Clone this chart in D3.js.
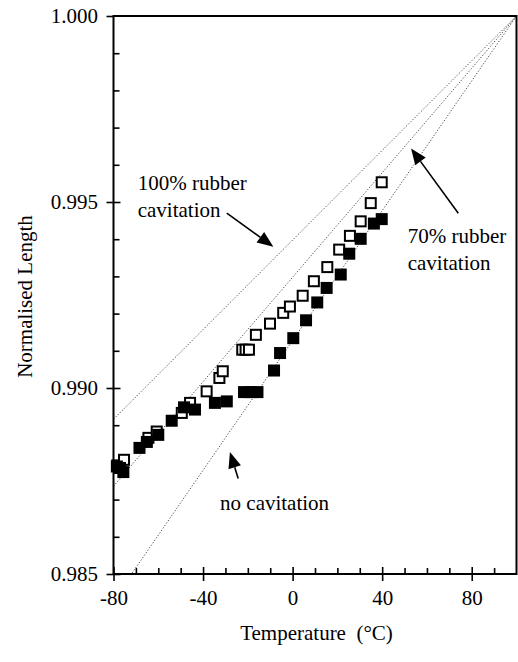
<!DOCTYPE html>
<html>
<head>
<meta charset="utf-8">
<script src="https://cdn.jsdelivr.net/npm/d3@7"></script>
<style>
  html, body { margin: 0; padding: 0; background: #fff; }
  svg { display: block; }
  text { font-family: "Liberation Serif", "Times New Roman", serif; fill: #000; }
</style>
</head>
<body>
<script>
// Thermal contraction data: temperature (°C) and normalised length
const openTemp = [-78.3, -75.3, -64.4, -60.7, -49.5, -45.8, -38.4, -32.7, -31.2, -22.5, -21.0, -19.5,
                  -16.4, -10.1, -4.2, -1.2, 4.5, 9.5, 15.5, 20.8, 25.6, 30.4, 34.9, 39.8];
const openLen  = [0.98792, 0.98807, 0.98866, 0.98883, 0.98933, 0.98960, 0.98991, 0.99027, 0.99045, 0.99103, 0.99103, 0.99103,
                  0.99143, 0.99173, 0.99202, 0.99219, 0.99248, 0.99287, 0.99325, 0.99372, 0.99409, 0.99448, 0.99497, 0.99553];

const filledTemp = [-78.5, -77.1, -75.6, -68.4, -65.1, -60.0, -54.0, -48.5, -43.6, -34.7, -29.4, -21.7, -18.7,
                    -15.7, -8.3, -5.6, 0.3, 6.0, 11.0, 15.2, 21.5, 25.3, 30.4, 36.3, 39.8];
const filledLen  = [0.98789, 0.98785, 0.98774, 0.98839, 0.98855, 0.98874, 0.98912, 0.98948, 0.98942, 0.98960, 0.98964, 0.98989, 0.98989,
                    0.98989, 0.99047, 0.99094, 0.99134, 0.99182, 0.99230, 0.99269, 0.99305, 0.99361, 0.99401, 0.99442, 0.99454];

// Model lines: all pass through (100 °C, 1.000); value at -80 °C
const modelNames = ["100% rubber cavitation", "70% rubber cavitation", "no cavitation"];
const modelStartLen = [0.98916, 0.98736, 0.98430];
const modelAnchor = [100, 1.000];

// Axis ticks
const xMajor = [-80, -40, 0, 40, 80];
const xMinor = d3.range(-70, 100, 10).filter(v => v % 40 !== 0);
const yMajor = [0.985, 0.990, 0.995, 1.000];
const yMinor = [0.986, 0.987, 0.988, 0.989, 0.991, 0.992, 0.993, 0.994, 0.996, 0.997, 0.998, 0.999];

// Annotations (data coordinates)
const labelLines = [
  { lines: ["100% rubber", "cavitation"], t: -69.2, l: 0.99532 },
  { lines: ["70% rubber", "cavitation"], t: 51.4, l: 0.99389 },
  { lines: ["no cavitation"], t: -32.4, l: 0.98671 }
];
const arrows = [
  { from: [-29.4, 0.99470], to: [-8.6, 0.99380] },
  { from: [74.0, 0.99470], to: [52.9, 0.99644] },
  { from: [-24.3, 0.98757], to: [-28.0, 0.98828] }
];

const W = 518, H = 662;
const plotL = 113.5, plotR = 516.5, plotT = 16, plotB = 574;
const FONT = 21;

const svg = d3.select("body").append("svg").attr("width", W).attr("height", H);
svg.append("rect").attr("width", W).attr("height", H).attr("fill", "#fff");

const x = d3.scaleLinear().domain([-80, 100]).range([plotL, plotR]);
const y = d3.scaleLinear().domain([0.985, 1.000]).range([plotB, plotT]);

svg.append("defs").append("clipPath").attr("id", "plot-clip")
  .append("rect").attr("x", plotL).attr("y", plotT).attr("width", plotR - plotL).attr("height", plotB - plotT);

// Dotted model lines
const lineGen = d3.line().x(d => x(d[0])).y(d => y(d[1]));
svg.append("g").attr("clip-path", "url(#plot-clip)")
  .selectAll("path").data(modelStartLen).join("path")
  .attr("d", d => lineGen([[-80, d], modelAnchor]))
  .attr("fill", "none").attr("stroke", "#333").attr("stroke-width", 0.9)
  .attr("stroke-dasharray", "1.2,1.8");

// Open squares, then filled squares
const openPts = openTemp.map((t, i) => [t, openLen[i]]);
const filledPts = filledTemp.map((t, i) => [t, filledLen[i]]);
const S = 12;
svg.append("g").selectAll("rect").data(openPts).join("rect")
  .attr("x", d => x(d[0]) - (S - 2) / 2).attr("y", d => y(d[1]) - (S - 2) / 2)
  .attr("width", S - 2).attr("height", S - 2)
  .attr("fill", "#fff").attr("stroke", "#000").attr("stroke-width", 2);
svg.append("g").selectAll("rect").data(filledPts).join("rect")
  .attr("x", d => x(d[0]) - S / 2).attr("y", d => y(d[1]) - S / 2)
  .attr("width", S).attr("height", S).attr("fill", "#000");

// Axes
function styleAxis(g) {
  g.attr("font-family", null).attr("font-size", null);
  g.selectAll(".tick line").attr("stroke", "#000").attr("stroke-width", 1.6);
  g.select(".domain").remove();
}
const xAxisG = svg.append("g").attr("transform", `translate(0,${plotB})`)
  .call(d3.axisBottom(x).tickValues(xMajor).tickSize(7).tickSizeOuter(0).tickFormat(d => String(d)))
  .call(styleAxis);
xAxisG.selectAll("text").attr("y", 31).attr("dy", 0).style("font-size", FONT + "px");
svg.append("g").attr("transform", `translate(0,${plotB})`)
  .call(d3.axisBottom(x).tickValues(xMajor).tickSize(-7).tickSizeOuter(0).tickFormat(""))
  .call(styleAxis);
svg.append("g").attr("transform", `translate(0,${plotB})`)
  .call(d3.axisBottom(x).tickValues(xMinor).tickSize(-6).tickSizeOuter(0).tickFormat(""))
  .call(styleAxis);

const yAxisG = svg.append("g").attr("transform", `translate(${plotL},0)`)
  .call(d3.axisLeft(y).tickValues(yMajor).tickSize(7).tickSizeOuter(0).tickFormat(d3.format(".3f")))
  .call(styleAxis);
yAxisG.selectAll("text").attr("x", -15.5).attr("dy", "0.33em").style("font-size", FONT + "px");
svg.append("g").attr("transform", `translate(${plotL},0)`)
  .call(d3.axisLeft(y).tickValues(yMajor.filter(v => v < 1)).tickSize(-7).tickSizeOuter(0).tickFormat(""))
  .call(styleAxis);
svg.append("g").attr("transform", `translate(${plotL},0)`)
  .call(d3.axisLeft(y).tickValues(yMinor).tickSize(-6).tickSizeOuter(0).tickFormat(""))
  .call(styleAxis);

// Frame
svg.append("path")
  .attr("d", `M${plotL},${plotT}V${plotB}H${plotR}V${plotT}Z`)
  .attr("fill", "none").attr("stroke", "#000").attr("stroke-width", 2);

// Axis titles
svg.append("text").attr("x", 316.5).attr("y", 640).attr("text-anchor", "middle")
  .style("font-size", FONT + "px").style("white-space", "pre")
  .text("Temperature  (°C)");
svg.append("text").attr("transform", "translate(32,296.5) rotate(-90)").attr("text-anchor", "middle")
  .style("font-size", FONT + "px").text("Normalised Length");

// Annotation labels
labelLines.forEach(lab => {
  lab.lines.forEach((s, i) => {
    svg.append("text").attr("x", x(lab.t)).attr("y", y(lab.l) + i * 27)
      .style("font-size", FONT + "px").text(s);
  });
});

// Arrows
arrows.forEach(a => {
  const x1 = x(a.from[0]), y1 = y(a.from[1]), x2 = x(a.to[0]), y2 = y(a.to[1]);
  const ang = Math.atan2(y2 - y1, x2 - x1);
  const hl = 16, hw = 6.5;
  const bx = x2 - hl * Math.cos(ang), by = y2 - hl * Math.sin(ang);
  svg.append("line").attr("x1", x1).attr("y1", y1).attr("x2", bx).attr("y2", by)
    .attr("stroke", "#000").attr("stroke-width", 1.6);
  const px = -Math.sin(ang) * hw, py = Math.cos(ang) * hw;
  svg.append("path")
    .attr("d", `M${x2},${y2}L${bx + px},${by + py}L${bx - px},${by - py}Z`)
    .attr("fill", "#000");
});
</script>
</body>
</html>
